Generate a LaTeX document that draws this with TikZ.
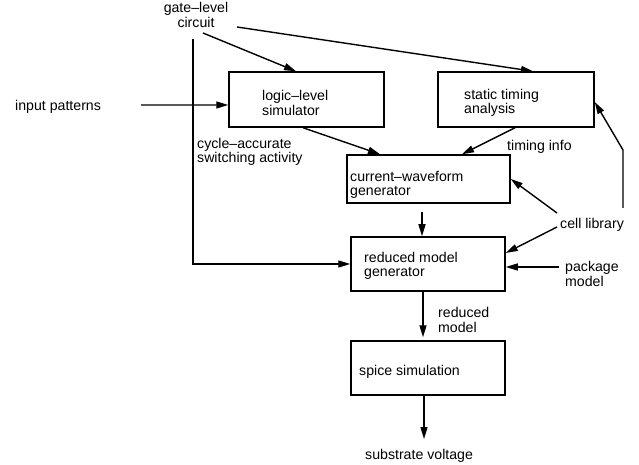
\documentclass[tikz,border=0pt]{standalone}
\usepackage{fontspec}
\setmainfont{Liberation Sans}
\usetikzlibrary{arrows.meta}
\begin{document}
\begin{tikzpicture}[x=1bp,y=-1bp,
  box/.style={draw, line width=1.5bp, inner sep=0},
  lbl/.style={anchor=west, align=left, inner sep=0, font=\fontsize{14.2}{14.5}\selectfont},
  arr/.style={line width=1.4bp, -{Triangle[length=12bp,width=7bp]}},
  ln/.style={line width=1.4bp}]
\useasboundingbox (0,0) rectangle (639,465);
% boxes
\node[box, minimum width=155bp, minimum height=55bp] (logic) at (306.5,99.5) {};
\node[box, minimum width=156bp, minimum height=55bp] (static) at (516,99.5) {};
\node[box, minimum width=163bp, minimum height=48bp] (cw) at (428.5,179) {};
\node[box, minimum width=154bp, minimum height=54bp] (reduced) at (428,264) {};
\node[box, minimum width=154bp, minimum height=54bp] (spice) at (428,368) {};
% texts
\node[lbl, anchor=center, align=center] (gate) at (196,15) {gate--level\\circuit};
\node[lbl] (input) at (15,107) {input patterns};
\node[lbl] (logict) at (262,103) {logic--level\\simulator};
\node[lbl] (statict) at (464,103) {static timing\\analysis};
\node[lbl] (cyclet) at (197,152) {cycle--accurate\\switching activity};
\node[lbl] (timingt) at (507,147) {timing info};
\node[lbl] (cwt) at (350,185) {current--waveform\\generator};
\node[lbl] (cellt) at (560,225) {cell library};
\node[lbl] (reducedt) at (364,266) {reduced model\\generator};
\node[lbl] (packaget) at (565,274) {package\\model};
\node[lbl] (redmodt) at (438,320) {reduced\\model};
\node[lbl] (spicet) at (359,371.5) {spice simulation};
\node[lbl] (subst) at (365,456) {substrate voltage};
% connectors
\draw[arr] ([shift={(7,18)}]gate.center) -- ([shift={(-10.5,0)}]logic.north);
\draw[arr] ([shift={(41,12)}]gate.center) -- ([shift={(17,0)}]static.north);
\draw[arr] ([shift={(-3,24)}]gate.center) |- (reduced.west);
\draw[arr] ([shift={(40,-2)}]input.east) -- ([shift={(0,5.5)}]logic.west);
\draw[arr] ([shift={(-3.5,0)}]logic.south) -- ([shift={(-48.5,0)}]cw.north);
\draw[arr] ([shift={(-1,0)}]static.south) -- ([shift={(33.5,0)}]cw.north);
\draw[arr] ([shift={(-6.5,8)}]cw.south) -- ([shift={(-6,0)}]reduced.north);
\draw[arr] ([shift={(-3,-12)}]cellt.west) -- (cw.east);
\draw[arr] ([shift={(-3,2)}]cellt.west) -- ([shift={(0,-11)}]reduced.east);
\draw[arr] ([shift={(63,-17)}]cellt.west) -- ++(0,-58) -- ([shift={(0,2.5)}]static.east);
\draw[arr] ([shift={(-6,-7)}]packaget.west) -- ([shift={(0,3)}]reduced.east);
\draw[arr] ([shift={(-5,0)}]reduced.south) -- ([shift={(-5,-3)}]spice.north);
\draw[arr] ([shift={(-4,0)}]spice.south) -- ([shift={(59,-17)}]subst.west);
\end{tikzpicture}
\end{document}
